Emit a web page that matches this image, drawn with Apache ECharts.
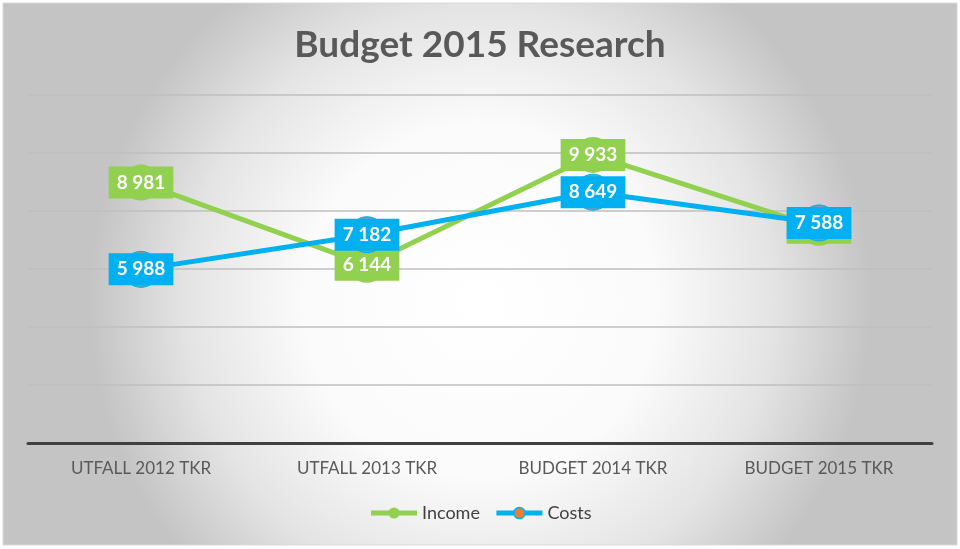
<!DOCTYPE html>
<html><head><meta charset="utf-8">
<script src="https://cdn.jsdelivr.net/npm/echarts@6/dist/echarts.min.js"></script>
<style>html,body{margin:0;padding:0;background:#fff}#c{width:960px;height:549px}</style>
</head><body><div id="c"></div>
<script>
const categories = ['UTFALL 2012 TKR','UTFALL 2013 TKR','BUDGET 2014 TKR','BUDGET 2015 TKR'];
const income = [8981, 6144, 9933, 7420];
const costs = [5988, 7182, 8649, 7588];
const incomeLabels = ['8 981','6 144','9 933','7 420'];
const costsLabels = ['5 988','7 182','8 649','7 588'];

const chart = echarts.init(document.getElementById('c'));
const FONT = 'Lato, "Open Sans", sans-serif';
function lbl(color, texts){
  return {
    show:true, position:'inside', color:'#fff', fontWeight:'bold', fontSize:19, fontFamily:FONT,
    backgroundColor:color, padding:[7,8,6,8],
    formatter: p => texts[p.dataIndex]
  };
}
chart.setOption({
  backgroundColor:'#fff',
  graphic:[{type:'rect', shape:{x:3,y:3,width:954,height:542}, z:-10,
    style:{fill:new echarts.graphic.RadialGradient(0.5,0.55,0.72,[{offset:0,color:'#ffffff'},{offset:0.45,color:'#fbfbfb'},{offset:0.75,color:'#e4e4e4'},{offset:1,color:'#c4c4c4'}]), stroke:'#d9d9d9', lineWidth:1}}],
  title:{text:'Budget 2015 Research', left:'center', top:22,
    textStyle:{fontSize:37, fontWeight:'bold', color:'#595959', fontFamily:FONT}},
  legend:{bottom:22, left:'center', itemWidth:46, itemHeight:14, itemGap:14,
    lineStyle:{width:5},
    textStyle:{fontSize:18, color:'#404040', fontFamily:FONT},
    data:[{name:'Income'},{name:'Costs', itemStyle:{color:'#ED7D31', borderColor:'#00B0F0', borderWidth:1.5}}]},
  grid:{left:28, right:28, top:95, bottom:106},
  xAxis:{type:'category', data:categories, boundaryGap:true,
    axisLine:{lineStyle:{color:'#404040', width:3}}, axisTick:{show:false},
    axisLabel:{fontSize:17, color:'#595959', margin:17, fontFamily:FONT}},
  yAxis:{type:'value', min:0, max:12000, interval:2000, axisLabel:{show:false},
    axisLine:{show:false}, axisTick:{show:false},
    splitLine:{lineStyle:{color:'#bfbfbf', width:1.5}}},
  series:[
    {name:'Income', type:'line', data:income, symbol:'circle', symbolSize:36,
     lineStyle:{color:'#92D050', width:5}, itemStyle:{color:'#92D050'},
     label:lbl('#92D050', incomeLabels), z:2},
    {name:'Costs', type:'line', data:costs, symbol:'circle', symbolSize:36,
     lineStyle:{color:'#00B0F0', width:5}, itemStyle:{color:'#6f9fb8', borderColor:'#00B0F0', borderWidth:1},
     label:lbl('#00B0F0', costsLabels), z:3}
  ]
});
</script></body></html>
